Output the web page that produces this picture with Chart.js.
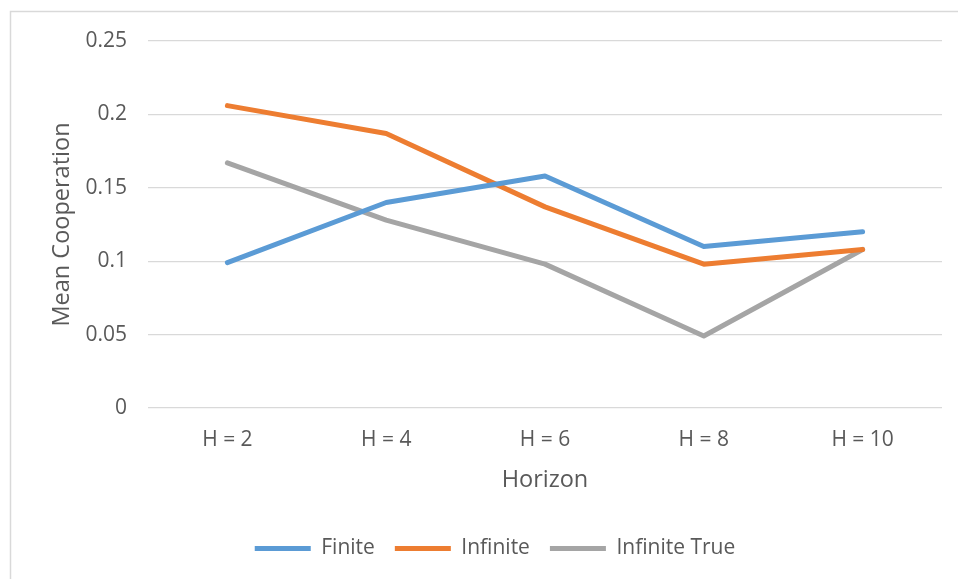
<!DOCTYPE html>
<html>
<head>
<meta charset="utf-8">
<script src="https://cdn.jsdelivr.net/npm/chart.js@4.4.1/dist/chart.umd.min.js"></script>
<style>
  html, body { margin: 0; padding: 0; background: #fff; }
  canvas { display: block; }
</style>
</head>
<body>
<canvas id="coopChart" width="958" height="579"></canvas>
<script>
// datos
const horizons = ['H = 2', 'H = 4', 'H = 6', 'H = 8', 'H = 10'];
const finite = [0.099, 0.14, 0.158, 0.11, 0.12];
const infinite = [0.206, 0.187, 0.137, 0.098, 0.108];
const infiniteTrue = [0.167, 0.128, 0.098, 0.049, 0.108];
const yTickLabels = ['0', '0.05', '0.1', '0.15', '0.2', '0.25'];

const textColor = '#595959';
const gridColor = '#D9D9D9';

// marco gris alrededor del grafico
const framePlugin = {
    id: 'frame',
    beforeDraw(chart) {
        const c = chart.ctx;
        c.save();
        c.fillStyle = '#fff';
        c.fillRect(0, 0, chart.width, chart.height);
        c.strokeStyle = gridColor;
        c.lineWidth = 1.5;
        c.strokeRect(10.5, 11.5, 1000, 1000);
        c.restore();
    }
};

function makeSet(label, data, color) {
    return {
        label: label,
        data: data,
        borderColor: color,
        backgroundColor: color,
        borderWidth: 5,
        borderCapStyle: 'round',
        borderJoinStyle: 'round',
        pointRadius: 0,
        pointHoverRadius: 0,
        tension: 0,
        fill: false
    };
}

Chart.defaults.font.family = '"Open Sans", sans-serif';
Chart.defaults.font.size = 21;
Chart.defaults.color = textColor;

new Chart(document.getElementById('coopChart').getContext('2d'), {
    type: 'line',
    data: {
        labels: horizons,
        datasets: [
            makeSet('Finite', finite, '#5B9BD5'),
            makeSet('Infinite', infinite, '#ED7D31'),
            makeSet('Infinite True', infiniteTrue, '#A5A5A5')
        ]
    },
    options: {
        responsive: false,
        animation: false,
        layout: {
            padding: { left: 48, right: 16, top: 41, bottom: 10 }
        },
        plugins: {
            legend: {
                position: 'bottom',
                labels: {
                    usePointStyle: true,
                    pointStyle: 'line',
                    pointStyleWidth: 56,
                    padding: 20,
                    color: textColor,
                    font: { size: 21 }
                }
            },
            tooltip: { enabled: false },
            title: { display: false }
        },
        scales: {
            x: {
                offset: true,
                grid: { display: false, drawTicks: false },
                border: { display: false },
                ticks: { padding: 19, color: textColor, maxRotation: 0 },
                title: {
                    display: true,
                    text: 'Horizon',
                    color: textColor,
                    font: { size: 23.5 },
                    padding: { top: 0, bottom: 24 }
                },
                afterFit(scale) { scale.height = 110; }
            },
            y: {
                min: 0,
                max: 0.25,
                grid: { color: gridColor, lineWidth: 1.3, drawTicks: false },
                border: { display: false },
                ticks: {
                    stepSize: 0.05,
                    padding: 21,
                    color: textColor,
                    callback: (v, i) => yTickLabels[i]
                },
                title: {
                    display: true,
                    text: 'Mean Cooperation',
                    color: textColor,
                    font: { size: 23.5 },
                    padding: 0
                },
                afterFit(scale) { scale.width = 100; }
            }
        }
    },
    plugins: [framePlugin]
});
</script>
</body>
</html>
